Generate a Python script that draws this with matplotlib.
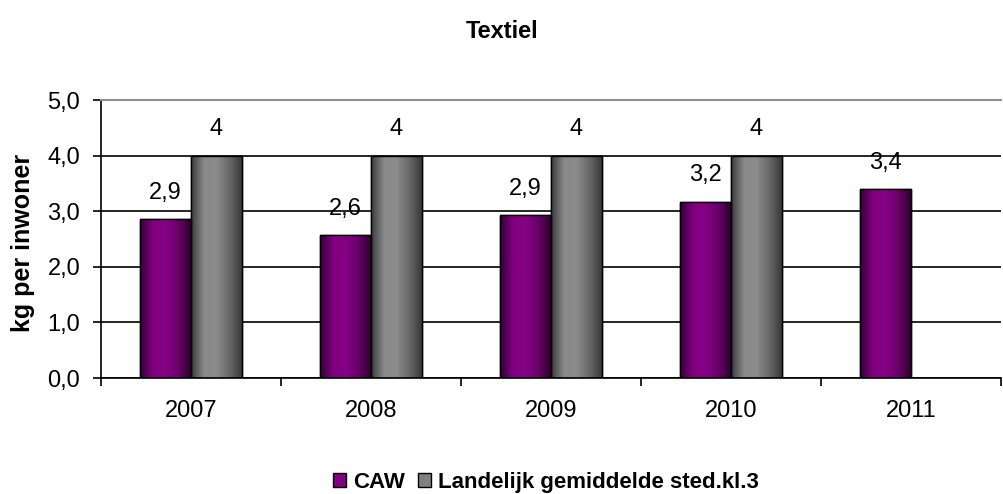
import numpy as np
import matplotlib
matplotlib.use("Agg")
import matplotlib.pyplot as plt
from matplotlib.colors import LinearSegmentedColormap
from matplotlib.patches import Patch
from matplotlib.ticker import FuncFormatter

plt.rcParams["font.family"] = ["Liberation Sans", "DejaVu Sans"]

years = ["2007", "2008", "2009", "2010", "2011"]
caw = [2.86, 2.57, 2.93, 3.17, 3.40]
landelijk = [4.0, 4.0, 4.0, 4.0, np.nan]
caw_labels = ["2,9", "2,6", "2,9", "3,2", "3,4"]
land_labels = ["4", "4", "4", "4", ""]
series_names = ["CAW", "Landelijk gemiddelde sted.kl.3"]

fig = plt.figure(figsize=(10.04, 4.94), dpi=100)
ax = fig.add_axes([101/1004, 1-378/494, 900/1004, 278/494])

x = np.arange(len(years))
w = 0.283
b1 = ax.bar(x - w/2, caw, w, color="#800080", edgecolor="black", lw=1, zorder=2)
b2 = ax.bar(x + w/2, landelijk, w, color="#808080", edgecolor="black", lw=1, zorder=2)

# horizontal gradient on each bar, Excel style
cm_p = LinearSegmentedColormap.from_list("p", ["#33003a", "#80007f", "#850085", "#6a006a", "#2e002e"])
cm_g = LinearSegmentedColormap.from_list("g", ["#3c3c3c", "#8a8a8a", "#8c8c8c", "#6a6a6a", "#3a3a3a"])
grad = np.linspace(0, 1, 64).reshape(1, -1)
for bars, cm in ((b1, cm_p), (b2, cm_g)):
    for b in bars:
        h = b.get_height()
        if not np.isfinite(h):
            continue
        x0 = b.get_x()
        im = ax.imshow(grad, cmap=cm, extent=[x0, x0 + b.get_width(), 0, h],
                       aspect="auto", zorder=2.5, interpolation="bicubic")
        im.set_clip_path(b)
ax.bar(x - w/2, caw, w, facecolor="none", edgecolor="black", lw=1, zorder=3)
ax.bar(x + w/2, landelijk, w, facecolor="none", edgecolor="black", lw=1, zorder=3)

# value labels ~27 px above the bar tops
for xs, vals, labs in ((x - w/2, caw, caw_labels), (x + w/2, landelijk, land_labels)):
    for xi, v, t in zip(xs, vals, labs):
        if t:
            ax.annotate(t, (xi, v), xytext=(0, 19), textcoords="offset points",
                        ha="center", va="center", fontsize=17)

ax.set_xlim(-0.5, len(years) - 0.5)
ax.set_ylim(0, 5)
ax.set_yticks(np.arange(0, 5.1, 1))
ax.yaxis.set_major_formatter(FuncFormatter(lambda v, p: f"{v:.1f}".replace(".", ",")))
ax.grid(axis="y", color="black", lw=1.2, zorder=0)
ax.set_axisbelow(True)

ax.set_xticks(np.arange(-0.5, len(years), 1))
ax.set_xticklabels([])
ax.set_xticks(x, minor=True)
ax.set_xticklabels(years, minor=True, fontsize=17)
ax.tick_params(axis="x", which="minor", length=0, pad=16)
ax.tick_params(axis="x", which="major", length=6, width=1.2, color="black")
ax.tick_params(axis="y", length=6, width=1.2, labelsize=17, pad=9)

ax.spines["right"].set_visible(False)
ax.spines["top"].set_color("#909090")
ax.spines["top"].set_linewidth(1.5)
ax.spines["left"].set_linewidth(1.2)
ax.spines["bottom"].set_linewidth(1.2)

fig.text(502/1004, 1 - 31/494, "Textiel", ha="center", va="center", fontsize=17, fontweight="bold")
fig.text(23/1004, 1 - 243/494, "kg per inwoner", rotation=90, ha="center", va="center",
         fontsize=18, fontweight="bold")

handles = [Patch(facecolor="#800080", edgecolor="black"), Patch(facecolor="#808080", edgecolor="black")]
fig.legend(handles, series_names, loc="center", bbox_to_anchor=(546/1004, 1 - 482/494),
           ncol=2, frameon=False, handlelength=0.6, handleheight=0.6, handletextpad=0.3,
           columnspacing=0.6, borderpad=0, prop={"weight": "bold", "size": 16})

fig.savefig("out.png", dpi=100)
